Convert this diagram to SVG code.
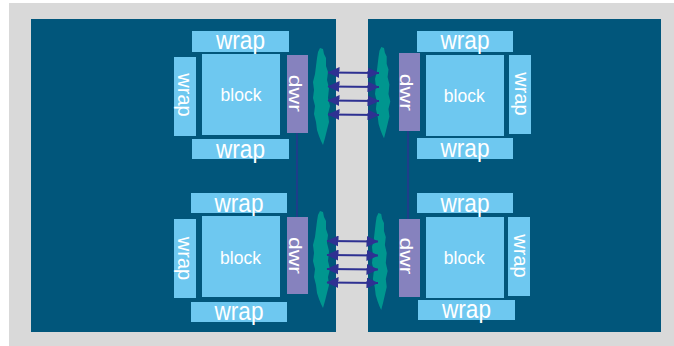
<svg xmlns="http://www.w3.org/2000/svg" xmlns:xlink="http://www.w3.org/1999/xlink" width="674" height="346" viewBox="0 0 674 346">
<style>
.panel{fill:#01567B}
.lb{fill:#6EC8F0}
.dwr{fill:#8682BE}
.blob{fill:#00968F}
.t{font-family:"Liberation Sans",Arial,Helvetica,sans-serif;fill:#FFFFFF;text-anchor:middle}
.hw{font-size:26px}
.vw{font-size:20px}
.bk{font-size:17.5px}
.dw{font-size:19px}
.arr{stroke:#2E3192;stroke-width:2;fill:none;marker-start:url(#ah);marker-end:url(#ah)}
.vl{stroke:#2E3192;stroke-width:1.3;fill:none}
</style>
<defs>
<marker id="ah" markerUnits="userSpaceOnUse" markerWidth="12" markerHeight="11" viewBox="0 0 12 11" refX="11.5" refY="5.5" orient="auto-start-reverse">
<path d="M0,0 L12,5.5 L0,11 Z" fill="#2E3192"/>
</marker>
<path id="blobshape" d="M7,0 L10,1 L11,6 L13,10 L13,18 L15,24 L14,32 L16,40 L15,50 L17,58 L15,66 L16,74 L14,82 L12,90 L10,97 L8,93 L6,88 L4,82 L3,74 L1,66 L2,58 L0,50 L1,42 L0,34 L2,26 L3,18 L4,10 L5,4 Z"/>
</defs>
<rect x="9" y="3" width="665" height="343" fill="#D9D9D9"/>
<rect class="panel" x="31" y="19" width="305" height="313"/>
<rect class="panel" x="368" y="19" width="293" height="313"/>

<g id="blob-ul"><use xlink:href="#blobshape" class="blob" transform="translate(313,48)"/></g>
<g id="blob-ur"><use xlink:href="#blobshape" class="blob" transform="translate(375,47) scale(0.9,0.94)"/></g>
<g id="blob-ll"><use xlink:href="#blobshape" class="blob" transform="translate(313,211)"/></g>
<g id="blob-lr"><use xlink:href="#blobshape" class="blob" transform="translate(372,213) scale(0.92,1)"/></g>

<!-- upper left -->
<g id="ul-wrap-top"><rect class="lb" x="192" y="31" width="97" height="21"/><text class="t hw" x="240.5" y="49.3" textLength="49" lengthAdjust="spacingAndGlyphs">wrap</text></g>
<g id="ul-wrap-left"><rect class="lb" x="174" y="57" width="22" height="79"/><text class="t vw" transform="translate(178.3,95) rotate(90)">wrap</text></g>
<g id="ul-block"><rect class="lb" x="202" y="54" width="78" height="81"/><text class="t bk" x="241" y="101">block</text></g>
<g id="ul-dwr"><rect class="dwr" x="287" y="55" width="21" height="78"/><text class="t dw" transform="translate(288.5,93.3) rotate(90)" textLength="37" lengthAdjust="spacingAndGlyphs">dwr</text></g>
<g id="ul-wrap-bottom"><rect class="lb" x="192" y="139" width="97" height="20"/><text class="t hw" x="240.5" y="157.7" textLength="49" lengthAdjust="spacingAndGlyphs">wrap</text></g>

<!-- lower left -->
<g id="ll-wrap-top"><rect class="lb" x="191" y="193" width="96" height="20"/><text class="t hw" x="239" y="211.7" textLength="49" lengthAdjust="spacingAndGlyphs">wrap</text></g>
<g id="ll-wrap-left"><rect class="lb" x="174" y="219" width="22" height="79"/><text class="t vw" transform="translate(178.3,258.5) rotate(90)">wrap</text></g>
<g id="ll-block"><rect class="lb" x="202" y="216" width="78" height="81"/><text class="t bk" x="240.5" y="263.7">block</text></g>
<g id="ll-dwr"><rect class="dwr" x="287" y="217" width="21" height="77"/><text class="t dw" transform="translate(288.5,255.5) rotate(90)" textLength="37" lengthAdjust="spacingAndGlyphs">dwr</text></g>
<g id="ll-wrap-bottom"><rect class="lb" x="191" y="302" width="96" height="20"/><text class="t hw" x="239" y="320" textLength="49" lengthAdjust="spacingAndGlyphs">wrap</text></g>

<!-- upper right -->
<g id="ur-wrap-top"><rect class="lb" x="417" y="31" width="96" height="21"/><text class="t hw" x="465" y="49.3" textLength="49" lengthAdjust="spacingAndGlyphs">wrap</text></g>
<g id="ur-dwr"><rect class="dwr" x="399" y="53" width="21" height="78"/><text class="t dw" transform="translate(400.3,92.3) rotate(90)" textLength="37" lengthAdjust="spacingAndGlyphs">dwr</text></g>
<g id="ur-block"><rect class="lb" x="426" y="55" width="78" height="81"/><text class="t bk" x="464.3" y="102">block</text></g>
<g id="ur-wrap-right"><rect class="lb" x="509" y="55" width="22" height="79"/><text class="t vw" transform="translate(514.8,94) rotate(90)">wrap</text></g>
<g id="ur-wrap-bottom"><rect class="lb" x="417" y="138" width="96" height="21"/><text class="t hw" x="465" y="157.3" textLength="49" lengthAdjust="spacingAndGlyphs">wrap</text></g>

<!-- lower right -->
<g id="lr-wrap-top"><rect class="lb" x="417" y="193" width="96" height="20"/><text class="t hw" x="465" y="211.7" textLength="49" lengthAdjust="spacingAndGlyphs">wrap</text></g>
<g id="lr-dwr"><rect class="dwr" x="399" y="219" width="21" height="78"/><text class="t dw" transform="translate(400.3,256) rotate(90)" textLength="37" lengthAdjust="spacingAndGlyphs">dwr</text></g>
<g id="lr-block"><rect class="lb" x="426" y="217" width="78" height="81"/><text class="t bk" x="464.3" y="263.7">block</text></g>
<g id="lr-wrap-right"><rect class="lb" x="508" y="217" width="22" height="79"/><text class="t vw" transform="translate(513.6,256) rotate(90)">wrap</text></g>
<g id="lr-wrap-bottom"><rect class="lb" x="418" y="300" width="97" height="20"/><text class="t hw" x="466.5" y="317.7" textLength="49" lengthAdjust="spacingAndGlyphs">wrap</text></g>

<g id="connectors">
<line class="vl" x1="297" y1="133" x2="297" y2="217"/>
<line class="vl" x1="408" y1="131" x2="408" y2="219"/>
<line class="arr" x1="328" y1="72.5" x2="379" y2="73"/>
<line class="arr" x1="328" y1="86.5" x2="379" y2="87"/>
<line class="arr" x1="328" y1="100.5" x2="379" y2="101"/>
<line class="arr" x1="328" y1="114.5" x2="379" y2="115"/>
<line class="arr" x1="327" y1="241" x2="378" y2="241.5"/>
<line class="arr" x1="327" y1="255" x2="378" y2="255.5"/>
<line class="arr" x1="327" y1="269" x2="378" y2="269.5"/>
<line class="arr" x1="327" y1="282.5" x2="378" y2="283"/>
</g>
</svg>
